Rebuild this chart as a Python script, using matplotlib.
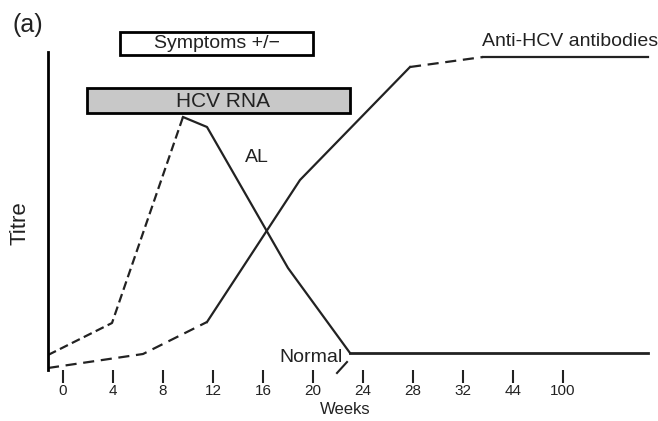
import numpy as np
import matplotlib.pyplot as plt
from matplotlib.patches import Rectangle

plt.rcParams['font.family'] = ['Liberation Sans', 'DejaVu Sans']

# etiquetas del eje (posiciones equiespaciadas)
semanas = ['0', '4', '8', '12', '16', '20', '24', '28', '32', '44', '100']

# curvas, x en unidades de posicion de tick, y titulo arbitrario
alt_x = [-0.3, 0.98, 2.4, 2.88, 4.5, 5.74]
alt_y = [15, 47, 253, 243, 102, 17]
anti_x = [-0.3, 1.6, 2.88, 4.74, 6.94, 8.4, 11.7]
anti_y = [2, 16, 48, 190, 303, 313, 313]
normal_x = [5.74, 11.7]
normal_y = [17, 17]

# barras superiores: inicio, fin
rna = [0.48, 5.74]
sintomas = [1.14, 5.0]

W, H = 658, 421
fig = plt.figure(figsize=(W / 100, H / 100), dpi=100)
ax = fig.add_axes([48 / W, 51 / H, 602 / W, 345 / H])
ax.set_xlim(-0.3, 11.74)
ax.set_ylim(0, 345)

c = '#222222'
lw = 1.6
# ALT
ax.plot(alt_x[:3], alt_y[:3], color=c, lw=lw, dashes=(4, 2))
ax.plot(alt_x[2:], alt_y[2:], color=c, lw=lw)
# anti-HCV
ax.plot(anti_x[:3], anti_y[:3], color=c, lw=lw, dashes=(5, 3))
ax.plot(anti_x[2:5], anti_y[2:5], color=c, lw=lw)
ax.plot(anti_x[4:6], anti_y[4:6], color=c, lw=lw, dashes=(5, 3))
ax.plot(anti_x[5:], anti_y[5:], color=c, lw=lw)
# normal
ax.plot(normal_x, normal_y, color=c, lw=2)
ax.plot([5.48, 5.68], [-3, 8], color=c, lw=1.5, clip_on=False)

# barras
ax.add_patch(Rectangle((sintomas[0], 315), sintomas[1] - sintomas[0], 23,
                       facecolor='white', edgecolor='black', lw=2, clip_on=False))
ax.add_patch(Rectangle((rna[0], 257), rna[1] - rna[0], 25,
                       facecolor='#c8c8c8', edgecolor='black', lw=2, clip_on=False))
ax.text(np.mean(sintomas), 326.5, 'Symptoms +/\u2212', ha='center', va='center',
        fontsize=14, color=c)
ax.text(3.2, 269, 'HCV RNA', ha='center', va='center', fontsize=15, color=c)

ax.text(8.38, 329, 'Anti-HCV antibodies', ha='left', va='center', fontsize=14, color=c)
ax.text(3.64, 213, 'AL', ha='left', va='center', fontsize=14, color=c)
ax.text(4.96, 13, 'Normal', ha='center', va='center', fontsize=14, color=c)

for s in ['top', 'right', 'bottom']:
    ax.spines[s].set_visible(False)
ax.spines['left'].set_bounds(0, 318)
ax.spines['left'].set_linewidth(2)
ax.set_yticks([])
ax.set_xticks(range(len(semanas)))
ax.set_xticklabels(semanas, fontsize=11, color=c)
ax.tick_params(axis='x', direction='out', length=9, width=1.5, pad=1, color=c)

ax.set_xlabel('Weeks', fontsize=12, color=c, va='center')
ax.xaxis.set_label_coords((345 - 48) / 602, (370 - 409) / 345)

fig.text(20 / W, 1 - 223 / H, 'Titre', rotation=90, ha='center', va='center',
         fontsize=16, color=c)
fig.text(28 / W, 1 - 25 / H, '(a)', ha='center', va='center', fontsize=18, color=c)

plt.savefig('out.png', dpi=100)
